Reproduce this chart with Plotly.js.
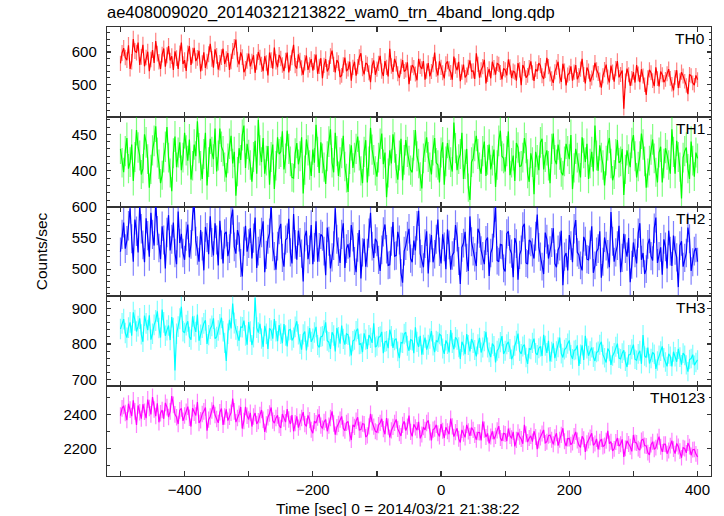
<!DOCTYPE html>
<html>
<head>
<meta charset="utf-8">
<script src="https://cdn.plot.ly/plotly-3.0.1.min.js"></script>
<style>html,body{margin:0;padding:0;background:#fff;}#chart{width:724px;height:516px;}</style>
</head>
<body>
<div id="chart"></div>
<script>
// Bin grid: start time and bin width (sec)
const T_START = -500;
const T_BIN = 2.5;

const th0 = [565,597,612,583,575,621,548,570,640,603,598,629,560,585,622,556,583,601,541,577,
606,566,634,595,570,548,592,611,555,590,618,574,587,545,602,581,548,596,629,563,
575,542,596,618,560,589,613,572,582,604,540,566,599,551,571,593,625,579,552,608,
588,546,567,584,610,563,578,597,545,571,603,615,638,577,562,599,584,538,549,572,
595,556,571,590,536,569,600,583,562,541,587,566,528,598,575,549,614,570,553,591,
580,560,541,574,598,537,566,583,622,558,549,593,574,551,530,567,589,545,560,578,
543,569,592,533,556,581,519,559,578,540,551,587,604,562,537,575,566,523,528,560,
583,541,548,570,512,553,570,527,555,584,596,549,531,566,562,536,507,558,574,530,
547,565,588,541,526,572,553,525,610,557,539,579,564,533,520,556,575,540,545,568,
501,535,560,552,532,513,579,556,548,572,515,541,566,525,540,561,598,547,528,571,
553,536,519,563,571,548,537,515,586,557,544,570,510,538,561,522,529,553,574,541,
542,517,596,562,521,545,555,576,503,531,548,519,570,552,530,565,562,537,516,549,
545,528,577,554,520,541,538,512,566,545,498,560,549,521,528,552,571,536,511,547,
540,566,558,527,517,543,582,555,532,518,505,539,553,570,526,508,564,541,497,529,
535,556,512,538,560,516,528,547,579,531,503,552,541,509,520,536,567,545,534,514,
490,527,546,561,523,506,558,538,509,549,572,522,531,543,425,511,549,530,496,519,
538,506,560,532,507,547,526,499,468,521,545,536,512,495,553,518,494,540,530,507,
516,533,547,519,501,482,522,544,489,512,538,526,510,497,470,531,527,505,498,528,515];

const th1 = [430,411,398,427,445,403,412,436,386,419,456,432,421,395,403,450,439,416,377,402,
428,441,461,425,409,383,394,418,433,460,418,397,372,424,447,405,425,439,401,418,
452,428,414,443,388,407,436,420,468,431,407,389,423,452,380,412,444,426,416,458,
399,421,458,433,427,405,391,417,437,448,410,426,366,399,431,415,449,462,404,437,
422,408,385,419,441,396,470,428,412,445,396,414,434,381,419,436,375,407,446,423,
426,454,402,417,455,430,413,391,390,424,438,409,420,446,369,401,443,428,408,393,
429,411,463,426,397,439,417,405,382,420,440,457,411,398,452,427,393,412,424,448,
406,390,371,416,435,404,418,430,447,421,400,383,426,442,384,413,459,429,415,400,
392,418,437,451,409,425,364,397,428,410,450,432,403,388,421,444,387,415,442,426,
414,401,398,435,456,420,410,392,376,417,433,446,419,405,395,428,445,411,408,384,
425,439,381,413,438,422,412,399,466,431,401,416,423,452,389,409,430,377,360,412,
417,434,448,423,405,396,427,440,393,415,436,402,414,429,378,408,441,455,420,417,
399,427,454,394,411,421,386,438,432,406,407,418,445,431,396,385,424,412,368,426,
415,401,439,444,402,419,428,407,383,430,451,415,409,436,422,398,394,413,437,427,
416,449,375,404,430,418,404,391,446,424,412,437,389,410,426,399,462,421,400,435,
418,408,380,414,435,445,410,387,395,423,442,411,413,430,367,402,428,416,405,438,
449,420,391,406,420,451,436,413,377,397,414,429,443,417,398,384,425,433,384,410,
431,422,408,396,457,426,396,441,419,405,362,418,427,432,403,389,440,414,392,425,417];

const th2 = [528,556,575,533,546,570,598,549,512,580,561,527,603,565,539,511,582,554,520,591,
556,538,610,562,534,516,569,547,501,559,587,530,548,575,526,508,593,542,557,526,
515,553,572,519,540,586,604,545,530,512,563,537,498,568,551,524,585,543,522,574,
547,506,578,539,509,557,560,521,533,581,596,536,525,563,552,510,488,545,570,528,
541,566,517,550,583,502,529,541,559,577,495,523,548,558,606,536,521,499,537,564,
573,518,504,547,550,581,527,509,589,540,515,562,543,525,480,552,562,516,531,571,
508,535,577,512,535,556,553,529,490,567,545,501,519,538,598,548,528,510,556,574,
502,533,540,519,571,552,513,495,535,563,485,527,549,504,526,558,591,537,518,549,
544,515,497,531,560,572,532,506,507,545,576,521,522,560,547,494,478,529,538,553,
565,517,511,546,530,570,594,525,516,503,541,561,493,534,555,511,524,548,580,528,
509,556,536,500,564,539,499,522,527,571,552,513,476,535,542,560,518,497,585,544,
529,519,505,565,558,530,521,508,546,551,489,526,534,575,601,514,512,540,539,501,
496,557,561,532,525,487,550,541,483,523,531,568,573,510,508,547,544,527,517,553,
588,535,520,504,492,559,548,517,530,543,566,509,503,531,537,562,474,520,526,498,
555,538,511,565,579,527,523,506,498,552,545,516,515,539,569,494,506,528,533,561,
486,512,551,537,524,503,592,545,512,527,538,570,495,518,557,533,520,550,479,507,
543,526,509,558,574,515,526,492,500,540,549,521,514,566,583,510,521,535,491,548,
536,501,562,529,505,554,530,519,471,538,545,504,518,526,567,549,497,511,529,534,512];

const th3 = [842,858,870,831,818,846,861,823,889,867,835,850,872,827,806,880,858,839,881,812,
829,854,866,892,845,818,897,861,823,839,852,811,876,845,725,829,849,871,905,836,
831,853,864,820,812,878,850,834,883,809,826,846,858,867,800,825,843,851,872,815,
820,838,855,874,836,803,752,829,868,844,914,859,841,822,809,848,847,866,824,798,
862,835,797,819,930,846,832,857,815,792,851,829,786,844,838,815,870,836,808,853,
829,802,856,824,793,839,841,810,818,848,864,827,800,784,827,835,782,821,845,806,
815,832,848,797,790,820,822,838,861,809,805,786,833,824,779,845,819,801,852,814,
798,829,826,793,768,808,812,836,843,799,801,777,830,812,786,825,817,803,858,791,
795,819,821,834,774,806,808,788,840,822,789,811,815,779,760,804,803,828,833,795,
781,812,810,774,847,806,792,823,770,798,818,784,798,815,836,796,777,809,806,828,
824,787,772,810,800,776,839,803,785,819,812,791,758,806,796,771,828,797,779,814,
803,783,765,799,817,776,790,808,834,790,776,763,801,794,748,781,788,805,822,772,
781,799,806,786,757,768,795,809,829,780,772,793,798,762,744,787,785,803,815,775,
769,788,793,766,826,795,775,809,751,778,802,760,780,791,818,773,762,784,789,801,
810,769,758,782,784,796,738,771,796,755,823,787,767,780,790,763,752,776,779,798,
806,770,761,748,787,779,741,766,775,792,801,760,758,774,782,751,735,769,770,785,
798,757,754,772,781,744,825,766,762,790,745,759,776,771,730,752,768,780,793,761,
749,737,772,765,737,778,764,750,786,763,742,774,768,741,722,756,759,770,740,748,755];

const th0123 = [2395,2438,2452,2410,2368,2465,2430,2392,2485,2420,2340,2455,2415,2377,2462,2418,2380,2490,2440,2402,
2505,2431,2392,2468,2355,2409,2428,2376,2470,2445,2386,2420,2510,2458,2402,2385,2345,2426,2437,2364,
2395,2417,2448,2382,2330,2439,2412,2396,2475,2351,2367,2404,2420,2443,2305,2371,2390,2425,2458,2398,
2375,2352,2415,2437,2340,2389,2432,2365,2388,2412,2496,2420,2356,2381,2405,2446,2318,2363,2447,2394,
2372,2411,2330,2389,2410,2346,2362,2398,2428,2370,2298,2342,2385,2407,2443,2365,2350,2381,2396,2338,
2322,2404,2378,2356,2434,2372,2345,2398,2302,2350,2390,2324,2357,2381,2415,2344,2331,2396,2368,2311,
2290,2362,2350,2384,2402,2335,2318,2357,2372,2302,2335,2380,2420,2348,2282,2326,2346,2371,2390,2319,
2305,2352,2360,2289,2250,2340,2328,2364,2385,2310,2312,2347,2344,2268,2278,2331,2405,2355,2330,2302,
2296,2338,2352,2376,2315,2284,2380,2329,2265,2307,2328,2352,2372,2316,2290,2274,2340,2361,2306,2330,
2395,2298,2272,2343,2325,2309,2358,2260,2283,2327,2310,2351,2366,2295,2248,2312,2318,2340,2290,2271,
2345,2305,2262,2326,2302,2284,2377,2331,2270,2297,2320,2258,2236,2310,2288,2266,2340,2301,2275,2323,
2310,2280,2252,2296,2295,2248,2360,2312,2268,2289,2230,2271,2302,2255,2275,2307,2332,2262,2245,2290,
2286,2243,2318,2275,2260,2298,2212,2251,2295,2270,2256,2228,2340,2284,2238,2262,2275,2241,2302,2268,
2196,2247,2265,2289,2310,2233,2240,2276,2280,2252,2225,2266,2290,2217,2252,2281,2320,2243,2214,2259,
2260,2222,2235,2274,2298,2248,2220,2206,2272,2255,2180,2231,2248,2265,2290,2219,2230,2257,2195,2240,
2256,2212,2218,2246,2305,2229,2240,2186,2198,2238,2262,2214,2225,2254,2150,2201,2245,2227,2210,2183,
2280,2236,2232,2199,2190,2248,2255,2218,2215,2175,2162,2223,2240,2195,2205,2242,2270,2210,2180,2226,
2225,2169,2188,2217,2246,2196,2170,2230,2212,2184,2145,2205,2200,2174,2232,2211,2160,2193,2195,2168,2150];

const seriesNames = ["TH0","TH1","TH2","TH3","TH0123"];
const seriesData = [th0, th1, th2, th3, th0123];
const lineColors = ["#ff0000","#00ff00","#0000ff","#00ffff","#ff00ff"];
const errColors = ["rgba(255,0,0,0.5)","rgba(0,255,0,0.5)","rgba(0,0,255,0.5)","rgba(0,255,255,0.5)","rgba(255,0,255,0.5)"];
const yRanges = [[400.5,677],[351,474],[456,600.8],[681,934],[2037,2569]];
const yMajor = [100,50,50,100,200];
const yMinor = [20,10,10,20,100];

const titleText = "ae408009020_20140321213822_wam0_trn_4band_long.qdp";
const xTitleText = "Time [sec] 0 = 2014/03/21 21:38:22";
const yTitleText = "Counts/sec";

const FONT = "Liberation Sans, Arial, Helvetica, sans-serif";
const nP = 5;
const traces = [];
const layout = {
  width: 724, height: 516,
  margin: {l: 107, r: 13, t: 27, b: 40},
  paper_bgcolor: "#fff", plot_bgcolor: "#fff",
  showlegend: false,
  font: {family: FONT, size: 15, color: "#000"},
  title: {text: titleText, x: 0, xref: "paper", xanchor: "left", y: 0.977, yref: "container", yanchor: "middle",
          font: {family: FONT, size: 16.5, color: "#000"}},
  annotations: []
};

for (let k = 0; k < nP; k++) {
  const vals = seriesData[k];
  const t = vals.map((_, i) => T_START + i * T_BIN);
  const sx = k === 0 ? "" : String(k + 1);
  traces.push({
    type: "scatter", mode: "lines",
    x: t, y: vals,
    xaxis: "x" + sx, yaxis: "y" + sx,
    line: {color: lineColors[k], width: 1.2},
    error_y: {type: "sqrt", visible: true, color: errColors[k], thickness: 1.2, width: 0},
    hoverinfo: "skip"
  });
  const top = 1 - k / nP, bot = 1 - (k + 1) / nP;
  layout["xaxis" + sx] = {
    domain: [0, 1], range: [-521, 421], anchor: "y" + sx,
    showline: true, linecolor: "#333", linewidth: 1, mirror: "allticks",
    ticks: "inside", ticklen: 5, tickcolor: "#333", tickwidth: 1.2,
    tick0: 0, dtick: 200,
    minor: {dtick: 100, tick0: 0, ticks: "inside", ticklen: 5, tickcolor: "#333", tickwidth: 1.2, showgrid: false},
    showgrid: false, zeroline: false,
    showticklabels: k === nP - 1,
    tickfont: {family: FONT, size: 15, color: "#000"}
  };
  layout["yaxis" + sx] = {
    domain: [bot, top], range: yRanges[k], anchor: "x" + sx,
    showline: true, linecolor: "#333", linewidth: 1.2, mirror: "allticks",
    ticks: "inside", ticklen: 4, tickcolor: "#333", tickwidth: 1.2,
    dtick: yMajor[k], tick0: 0,
    minor: {dtick: yMinor[k], tick0: 0, ticks: "inside", ticklen: 2.5, tickcolor: "#333", tickwidth: 1, showgrid: false},
    showgrid: false, zeroline: false,
    tickfont: {family: FONT, size: 15, color: "#000"},
    ticklabelstandoff: 6
  };
  layout.annotations.push({
    text: seriesNames[k], xref: "x" + sx + " domain", yref: "y" + sx + " domain",
    x: 0.994, y: 1, xanchor: "right", yanchor: "top", yshift: -1, showarrow: false,
    font: {family: FONT, size: 15.5, color: "#000"}
  });
}

layout.annotations.push({
  text: yTitleText, xref: "paper", yref: "paper", x: -0.108, y: 0.5,
  xanchor: "center", yanchor: "middle", textangle: -90, showarrow: false,
  font: {family: FONT, size: 15.5, color: "#000"}
});
layout.annotations.push({
  text: xTitleText, xref: "paper", yref: "paper", x: 0.482, y: -0.072,
  xanchor: "center", yanchor: "middle", showarrow: false,
  font: {family: FONT, size: 15.5, color: "#000"}
});

Plotly.newPlot("chart", traces, layout, {displayModeBar: false, staticPlot: true});
</script>
</body>
</html>
